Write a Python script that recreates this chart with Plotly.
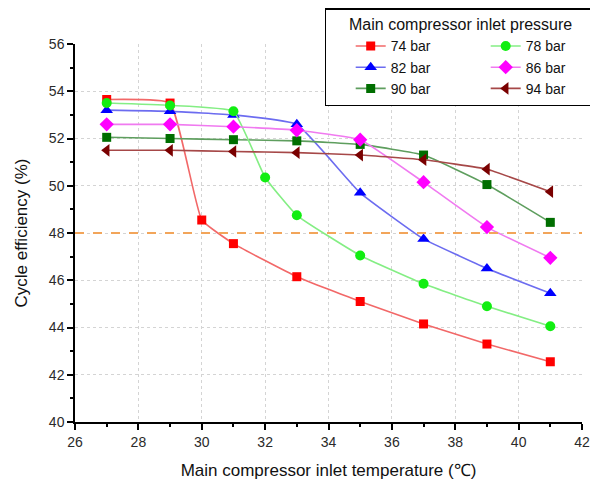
import plotly.graph_objects as go

# ---- data ----
temp_74 = [27, 29, 30, 31, 33, 35, 37, 39, 41]
eff_74 = [53.65, 53.5, 48.55, 47.55, 46.15, 45.1, 44.15, 43.3, 42.55]

temp_78 = [27, 29, 31, 32, 33, 35, 37, 39, 41]
eff_78 = [53.5, 53.4, 53.15, 50.35, 48.75, 47.05, 45.85, 44.9, 44.05]

temp_std = [27, 29, 31, 33, 35, 37, 39, 41]
eff_82 = [53.2, 53.15, 53.0, 52.6, 49.7, 47.75, 46.5, 45.45]
eff_86 = [52.6, 52.6, 52.5, 52.35, 51.95, 50.15, 48.25, 46.95]
eff_90 = [52.05, 52.0, 51.95, 51.9, 51.75, 51.3, 50.05, 48.45]
eff_94 = [51.5, 51.5, 51.45, 51.4, 51.3, 51.1, 50.7, 49.75]

threshold = 48
x_range = [26, 42]
y_range = [40, 56]
x_ticks = [26, 28, 30, 32, 34, 36, 38, 40, 42]
y_ticks = [40, 42, 44, 46, 48, 50, 52, 54, 56]
x_grid = [28, 30, 32, 34, 36, 38, 40]
y_grid = [42, 44, 46, 48, 50, 52, 54]

series = [
    # name, x, y, line colour, marker colour, symbol, size, group
    ("74 bar", temp_74, eff_74, "#F26868", "#FF0000", "square", 9, "a"),
    ("82 bar", temp_std, eff_82, "#6C6CF0", "#0000FF", "triangle-up", 11, "a"),
    ("90 bar", temp_std, eff_90, "#5E9E5E", "#006E00", "square", 9, "a"),
    ("78 bar", temp_78, eff_78, "#84EE84", "#11EE11", "circle", 10, "b"),
    ("86 bar", temp_std, eff_86, "#F07AF0", "#FF00FF", "diamond", 11, "b"),
    ("94 bar", temp_std, eff_94, "#A64848", "#7A0000", "triangle-left", 11, "b"),
]

fig = go.Figure()
for name, xs, ys, lc, mc, sym, sz, grp in series:
    fig.add_trace(go.Scatter(
        x=xs, y=ys, name=name, mode="lines+markers",
        line=dict(color=lc, width=1.6, shape="spline", smoothing=0.35),
        marker=dict(color=mc, symbol=sym, size=sz, line=dict(width=0)),
        legendgroup=grp,
    ))

# threshold line on the overlay (grid) axes
fig.add_trace(go.Scatter(
    x=x_range, y=[threshold, threshold], mode="lines", xaxis="x2", yaxis="y2",
    line=dict(color="#F2A55A", width=2, dash="dash"),
    showlegend=False, hoverinfo="skip",
))

font_family = "Liberation Sans, Arial, sans-serif"
tick_font = dict(size=14, color="#2a2a2a", family=font_family)

common_axis = dict(
    showline=True, linecolor="black", linewidth=1.5,
    ticks="outside", ticklen=6, tickwidth=1.5, tickcolor="black",
    tickfont=tick_font, showgrid=False, zeroline=False,
    minor=dict(dtick=1, ticks="outside", ticklen=3, tickcolor="black", tickwidth=1.5, showgrid=False),
)
grid_axis = dict(
    showline=False, ticks="", showticklabels=False, zeroline=False,
    showgrid=True, gridcolor="#d4d4d4", griddash="dot", gridwidth=1,
)

fig.update_layout(
    width=590, height=486,
    margin=dict(l=75, r=8, t=44, b=64, autoexpand=False),
    plot_bgcolor="white", paper_bgcolor="white",
    font=dict(family=font_family, color="#111"),
    showlegend=True,
    legend=dict(
        x=1.029, xanchor="right", y=1.095, yanchor="top",
        orientation="h", traceorder="grouped",
        entrywidth=64, entrywidthmode="pixels",
        tracegroupgap=0, indentation=26,
        bgcolor="white", bordercolor="black", borderwidth=1.5,
        font=dict(size=14, family=font_family, color="#111"),
        title=dict(text="Main compressor inlet pressure", side="top center",
                   font=dict(size=16, family=font_family, color="#111")),
    ),
    xaxis=dict(
        range=x_range, tickvals=x_ticks, ticktext=[str(v) for v in x_ticks],
        title=dict(text="Main compressor inlet temperature (℃)", font=dict(size=17, color="#111"), standoff=16),
        **common_axis,
    ),
    yaxis=dict(
        range=y_range, tickvals=y_ticks, ticktext=[str(v) for v in y_ticks],
        title=dict(text="Cycle efficiency (%)", font=dict(size=17, color="#111"), standoff=17),
        **common_axis,
    ),
    xaxis2=dict(overlaying="x", matches="x", anchor="y2", tickvals=x_grid, **grid_axis),
    yaxis2=dict(overlaying="y", matches="y", anchor="x2", tickvals=y_grid, **grid_axis),
)

fig.write_html("out.html", config={"displayModeBar": False},
               post_script="document.body.style.margin='0';document.body.style.padding='0';")
